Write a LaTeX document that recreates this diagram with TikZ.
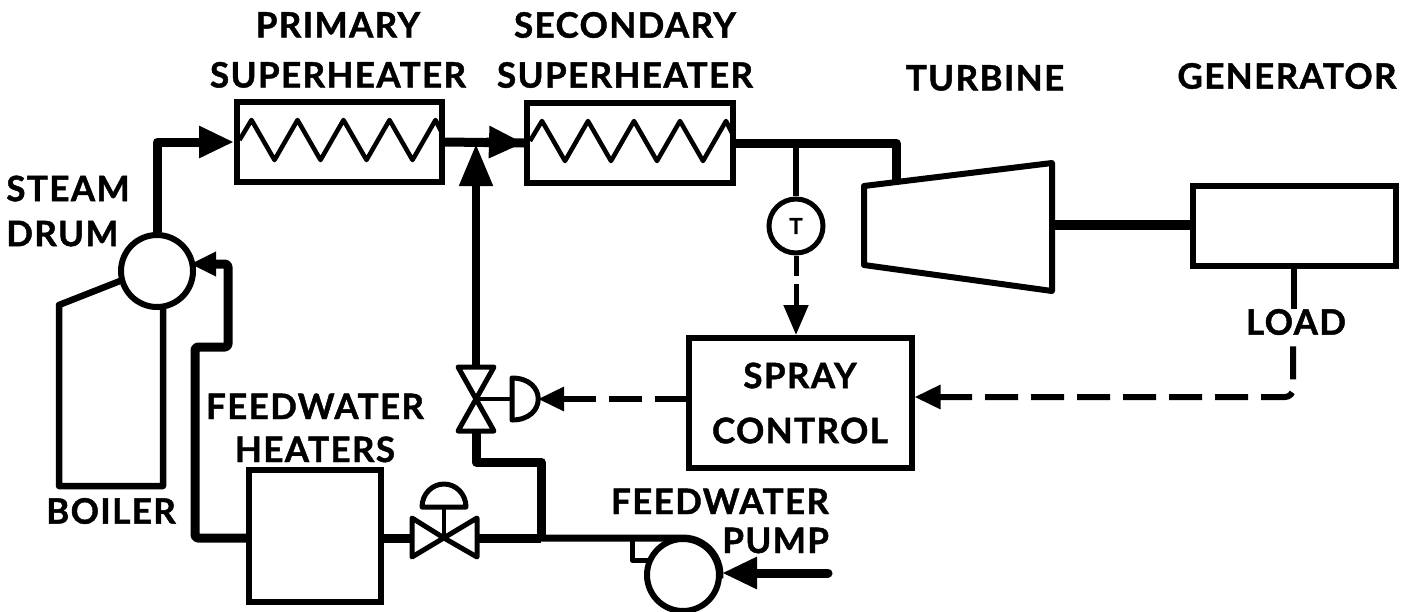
\documentclass[tikz,border=0pt]{standalone}
\usepackage{fontspec}
\setmainfont{Lato}[LetterSpace=4,BoldFeatures={FakeBold=1.2}]
\usetikzlibrary{arrows.meta,calc}
\begin{document}
\begin{tikzpicture}[x=1pt,y=-1pt,
 box/.style={draw,line width=6pt,inner sep=0pt,outer sep=3pt},
 label/.style={inner sep=0pt,align=center,font=\fontsize{35}{50}\selectfont\bfseries},
 pipe/.style={line width=9pt,line join=round},
 thin pipe/.style={line width=6pt,line join=round},
 coil/.style={line width=4.5pt,line join=round},
 ctrl/.style={line width=6pt,dash pattern=on 33pt off 13pt},
 flow/.style={-{Triangle[length=35pt,width=30pt]}},
 flowb/.style={{Triangle[length=26pt,width=23pt]}-}]
\useasboundingbox (0,0) rectangle (1419,611);
\node[label] (primarylabel) at (338,50) {PRIMARY\\SUPERHEATER};
\node[label] (secondarylabel) at (625,50) {SECONDARY\\SUPERHEATER};
\node[label] (turbinelabel) at (985,78) {TURBINE};
\node[label] (generatorlabel) at (1287,76) {GENERATOR};
\node[label,align=left] (drumlabel) at (68,211) {STEAM\\[-5pt]DRUM};
\node[label] (boilerlabel) at (111,511) {BOILER};
\node[label] (heaterlabel) at (315,428) {FEEDWATER\\[-7pt]HEATERS};
\node[label,align=right] (pumplabel) at (720,521) {FEEDWATER\\[-11pt]PUMP};
\node[label] (load) at (1296,322) {LOAD};
\node[box,minimum width=205pt,minimum height=80pt] (primary) at (339.5,142) {};
\node[box,minimum width=206pt,minimum height=80pt] (secondary) at (630,143) {};
\node[box,minimum width=203pt,minimum height=80pt] (generator) at (1294,226) {};
\node[box,minimum width=132pt,minimum height=132pt] (heater) at (315,536) {};
\node[box,minimum width=223pt,minimum height=130pt,label,draw,line width=6pt,font=\fontsize{35}{55}\selectfont\bfseries] (spray) at (800,403) {SPRAY\\CONTROL};
\node[box,circle,minimum size=72pt] (drum) at (157,271) {};
\node[box,circle,line width=5pt,minimum size=54pt,font=\fontsize{22}{22}\selectfont\bfseries] (temp) at (796,226) {T};
\node[box,circle,minimum size=72pt] (pump) at (683,575) {};
\coordinate (turbA) at (864,186);\coordinate (turbB) at (1052,163);
\coordinate (turbC) at (1052,291);\coordinate (turbD) at (864,265);
\coordinate (turbin) at (896,182);\coordinate (shaft) at (1052,225);
\coordinate (spraycross) at (476,399);\coordinate (mix) at (476,144);
\coordinate (actuator) at (512,399);\coordinate (actuatortip) at (538,399);
\coordinate (sprayin) at (476,431);\coordinate (sprayout) at (476,367);
\coordinate (feedcross) at (444,538);\coordinate (feedin) at (412,538);
\coordinate (feedout) at (477,538);\coordinate (tee) at (541,538);
\coordinate (riser) at (228,347);\coordinate (pumpin) at (828,573);
\coordinate (loadbend) at (1293,397);\coordinate (drumin) at (190,264);
\foreach \coilname in {primary,secondary}
 \draw[coil] ([shift={(-100,-2)}]\coilname.center) -- ++(12,-20)
  \foreach \k in {1,...,4}{ -- ++(23,40) -- ++(23,-40)} -- ++(6,12);
\draw[box,line join=round] (turbA)--(turbB)--(turbC)--(turbD)--cycle;
\draw[pipe,flow] (drum.north) |- (primary.west);
\draw[pipe] (primary.east)--(secondary.west);
\draw[pipe,flow] (mix)++(10,-2)--(secondary.west);
\draw[pipe] (secondary.east) -| (turbin);
\draw[thin pipe] (temp.north |- secondary.east)--(temp.north);
\draw[pipe,line width=10pt] (shaft)--(generator.west |- shaft);
\draw[pipe,rounded corners=3pt,flowb] (drumin)--(riser |- drumin)--(riser)--(195,347)--(195,538)--(heater.west |- feedin);
\draw[line width=5pt,line join=round] (sprayout)--(458,367)--(494,431)--(458,431)--(494,367)--cycle;
\draw[line width=5pt,line join=round] (feedcross)--(412,518)--(412,557)--(477,518)--(477,557)--cycle;
\draw[line width=4pt] (feedcross)--(444,507);
\draw[line width=5pt,line join=round] (422,507) arc (180:360:22 and 23)--cycle;
\draw[line width=4pt] (spraycross)--(actuator);
\draw[line width=5pt,line join=round] (actuator)++(0,-21)..controls (547,378) and (547,420)..(512,420)--cycle;
\draw[pipe,line width=8pt,-{Triangle[length=42pt,width=32pt]}] (sprayout)--(mix);
\draw[pipe] (sprayin)--(476,462)--(tee |- 0,462)--(tee);
\draw[pipe] (heater.east |- feedin)--(feedin);\draw[pipe] (feedout)--(tee);
\draw[line width=7pt] (tee)--(683,538) arc (-90:5:37);
\draw[line width=5pt,line join=round] (632,538)--(632,560)--(650,560);
\draw[pipe,flow,line cap=round] (pumpin)--(pump.east |- pumpin);
\draw[thin pipe] (generator.south)--(generator.south |- load.north);
\draw[ctrl,flowb] (actuatortip)--(spray.west |- actuatortip);
\draw[line width=5pt,dash pattern=on 20pt off 8pt on 60pt off 0pt,-{Triangle[length=30pt,width=24pt]}] (temp.south)--(temp.south |- spray.north);
\draw[ctrl,flowb,rounded corners=8pt] (spray.east |- loadbend)--(loadbend)--(loadbend |- load.south);
\draw[pipe,line width=6.5pt,line join=round] (120,281)--(59,305)--(59,486)--(163,486)--(163,307);
\end{tikzpicture}
\end{document}
